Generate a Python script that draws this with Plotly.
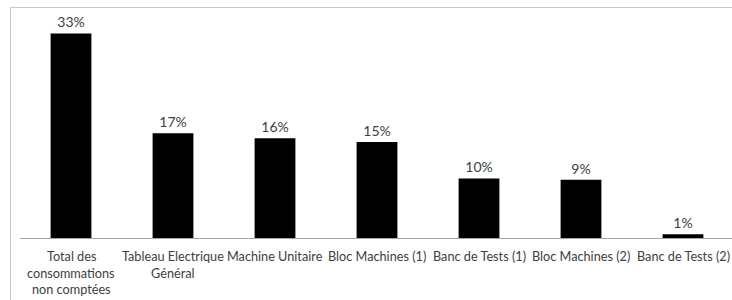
import plotly.graph_objects as go

categories = [
    "Total des<br>consommations<br>non comptées",
    "Tableau Electrique<br>Général",
    "Machine Unitaire",
    "Bloc Machines (1)",
    "Banc de Tests (1)",
    "Bloc Machines (2)",
    "Banc de Tests (2)",
]
values = [33.0, 16.9, 16.1, 15.5, 9.6, 9.4, 0.6]
labels = ["33%", "17%", "16%", "15%", "10%", "9%", "1%"]

W, H = 732, 300
ml, mr, mt, mb = 20, 0, 20, 62
pw, ph = W - ml - mr, H - mt - mb
px_per_cat = 102.0
px_per_pct = 6.2
FONT = "Lato, 'Open Sans', sans-serif"

fig = go.Figure(go.Bar(
    x=list(range(len(categories))),
    y=values,
    text=labels,
    textposition="outside",
    cliponaxis=False,
    textfont=dict(family=FONT, size=14, color="#404040"),
    marker=dict(color="#000000", line=dict(width=0)),
    width=0.40,
))

annotations = []
for i, c in enumerate(categories):
    for j, line in enumerate(c.split("<br>")):
        annotations.append(dict(
            x=i, y=0, xref="x", yref="y", text=line, showarrow=False,
            yanchor="middle", xanchor="center", yshift=-(18 + 16.5 * j),
            font=dict(family=FONT, size=12.7, color="#404040")))

bx = (10.5 - ml) / pw
ty = 1 + (mt - 7.5) / ph
by = (ph - (H - mt)) / ph - 0.1

fig.update_layout(
    width=W, height=H,
    margin=dict(l=ml, r=mr, t=mt, b=mb, autoexpand=False),
    paper_bgcolor="white", plot_bgcolor="white",
    showlegend=False,
    xaxis=dict(
        range=[-0.5, -0.5 + pw / px_per_cat],
        showgrid=False, zeroline=False,
        showline=True, linecolor="#a6a6a6", linewidth=1,
        ticks="", showticklabels=False, automargin=False,
    ),
    yaxis=dict(
        range=[0, ph / px_per_pct],
        visible=False, showgrid=False, zeroline=False, automargin=False,
    ),
    annotations=annotations,
    shapes=[
        dict(type="line", xref="paper", yref="paper", x0=bx, x1=bx, y0=by, y1=ty,
             line=dict(color="#c8c8c8", width=1)),
        dict(type="line", xref="paper", yref="paper", x0=bx, x1=1.05, y0=ty, y1=ty,
             line=dict(color="#c8c8c8", width=1)),
    ],
)

fig.write_html("out.html", config={"displayModeBar": False},
               post_script="document.body.style.margin='0';")
